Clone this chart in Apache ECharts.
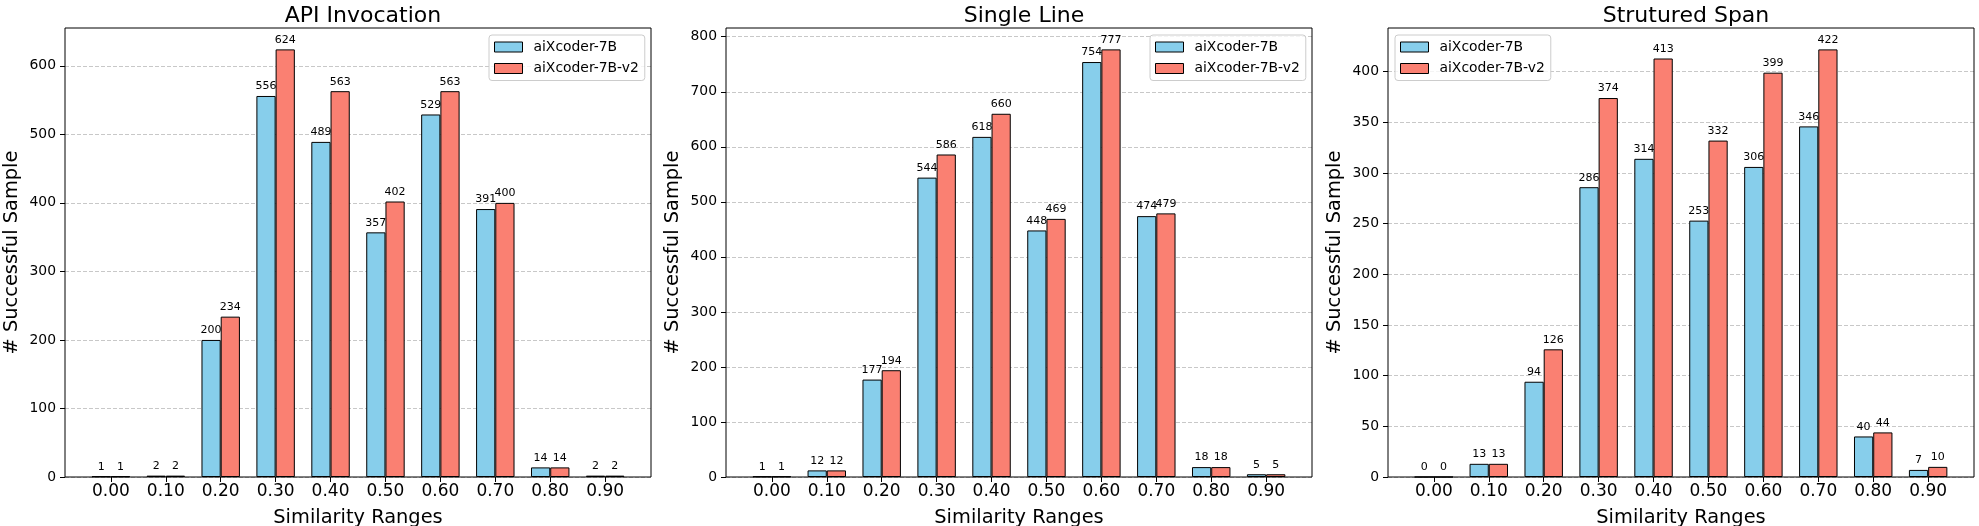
<!DOCTYPE html>
<html>
<head>
<meta charset="utf-8">
<script src="https://cdn.jsdelivr.net/npm/echarts@6/dist/echarts.min.js"></script>
<style>
  html, body { margin: 0; padding: 0; background: #fff; }
  #chart { width: 1979px; height: 526px; }
</style>
</head>
<body>
<div id="chart"></div>
<script>
// ---- data ----
const categories = ['0.00', '0.10', '0.20', '0.30', '0.40', '0.50', '0.60', '0.70', '0.80', '0.90'];
const seriesNames = ['aiXcoder-7B', 'aiXcoder-7B-v2'];
const panelTitles = ['API Invocation', 'Single Line', 'Strutured Span'];

const apiV1 = [1, 2, 200, 556, 489, 357, 529, 391, 14, 2];
const apiV2 = [1, 2, 234, 624, 563, 402, 563, 400, 14, 2];
const singleV1 = [1, 12, 177, 544, 618, 448, 754, 474, 18, 5];
const singleV2 = [1, 12, 194, 586, 660, 469, 777, 479, 18, 5];
const spanV1 = [0, 13, 94, 286, 314, 253, 306, 346, 40, 7];
const spanV2 = [0, 13, 126, 374, 413, 332, 399, 422, 44, 10];

const apiTicks = [0, 100, 200, 300, 400, 500, 600];
const singleTicks = [0, 100, 200, 300, 400, 500, 600, 700, 800];
const spanTicks = [0, 50, 100, 150, 200, 250, 300, 350, 400];

// ---- layout / style ----
const FONT = 'DejaVu Sans';
const colors = ['#87CEEB', '#FA8072'];
const panels = [
  { title: panelTitles[0], v1: apiV1, v2: apiV2, ticks: apiTicks, left: 65, legendLeft: 489 },
  { title: panelTitles[1], v1: singleV1, v2: singleV2, ticks: singleTicks, left: 726, legendLeft: 1150 },
  { title: panelTitles[2], v1: spanV1, v2: spanV2, ticks: spanTicks, left: 1388, legendLeft: 1395 }
];
const PW = 586, TOP = 28, PH = 449;
const xSpan = 10.67;              // matplotlib xlim width (-0.835 .. 9.835)
const unit = PW / xSpan;
const inset = 0.335 * unit;

const option = {
  animation: false,
  backgroundColor: '#fff',
  textStyle: { fontFamily: FONT },
  title: [], grid: [], xAxis: [], yAxis: [], series: [], legend: []
};

panels.forEach((p, i) => {
  const ymax = Math.max(...p.v1, ...p.v2) * 1.05;
  const fg = i * 2, ig = i * 2 + 1;
  option.title.push({
    text: p.title, left: p.left + PW / 2, top: 0, textAlign: 'center',
    textStyle: { fontFamily: FONT, fontSize: 22, fontWeight: 'normal', color: '#000' }
  });
  // frame grid
  option.grid.push({ left: p.left, top: TOP, width: PW, height: PH, show: true,
    borderColor: '#000', borderWidth: 1, backgroundColor: 'transparent', z: 5,
    containLabel: false, outerBoundsMode: 'none' });
  // inner grid (bars)
  option.grid.push({ left: p.left + inset, top: TOP, width: PW - 2 * inset, height: PH,
    containLabel: false, outerBoundsMode: 'none' });

  option.xAxis.push({ type: 'value', gridIndex: fg, min: 0, max: 1, show: false });
  option.xAxis.push({
    type: 'category', gridIndex: ig, data: categories,
    axisLine: { show: false },
    axisTick: { show: true, alignWithLabel: true, length: 5, lineStyle: { color: '#000' } },
    axisLabel: { fontFamily: FONT, fontSize: 17, color: '#000', margin: 6 },
    name: 'Similarity Ranges', nameLocation: 'middle', nameGap: 31,
    nameTextStyle: { fontFamily: FONT, fontSize: 19.4, color: '#000' },
    splitLine: { show: false }
  });
  option.yAxis.push({
    type: 'value', gridIndex: fg, min: 0, max: ymax,
    axisLine: { show: false },
    axisTick: { show: true, length: 5, lineStyle: { color: '#000' }, customValues: p.ticks },
    axisLabel: { fontFamily: FONT, fontSize: 13.9, color: '#000', margin: 9, customValues: p.ticks },
    splitLine: { show: true, lineStyle: { color: '#c8c8c8', type: [4, 2], width: 1 } },
    name: '# Successful Sample', nameLocation: 'middle', nameGap: 44,
    nameTextStyle: { fontFamily: FONT, fontSize: 19.4, color: '#000' }
  });
  option.yAxis.push({ type: 'value', gridIndex: ig, min: 0, max: ymax, show: false, splitLine: { show: false } });

  [p.v1, p.v2].forEach((vals, k) => {
    option.series.push({
      type: 'bar', name: seriesNames[k], xAxisIndex: ig, yAxisIndex: ig,
      data: vals, barWidth: '35%', barGap: '0%',
      itemStyle: { color: colors[k], borderColor: '#000', borderWidth: 1 },
      label: { show: true, position: 'top', distance: 4, fontFamily: FONT, fontSize: 11, color: '#000' }
    });
  });

  option.legend.push({
    data: seriesNames, orient: 'vertical', left: p.legendLeft, top: 35,
    icon: 'rect',
    itemWidth: 28, itemHeight: 10, itemGap: 7.5,
    padding: [5, 6, 5, 5],
    backgroundColor: 'rgba(255,255,255,0.8)', borderColor: '#cccccc', borderWidth: 1, borderRadius: 3,
    itemStyle: { borderColor: '#000', borderWidth: 1 },
    textStyle: { fontFamily: FONT, fontSize: 13.9, color: '#000', lineHeight: 14, padding: [0, 0, 0, 6] },
    selectedMode: false
  });
});

const chart = echarts.init(document.getElementById('chart'), null, { renderer: 'canvas' });
chart.setOption(option);
</script>
</body>
</html>
